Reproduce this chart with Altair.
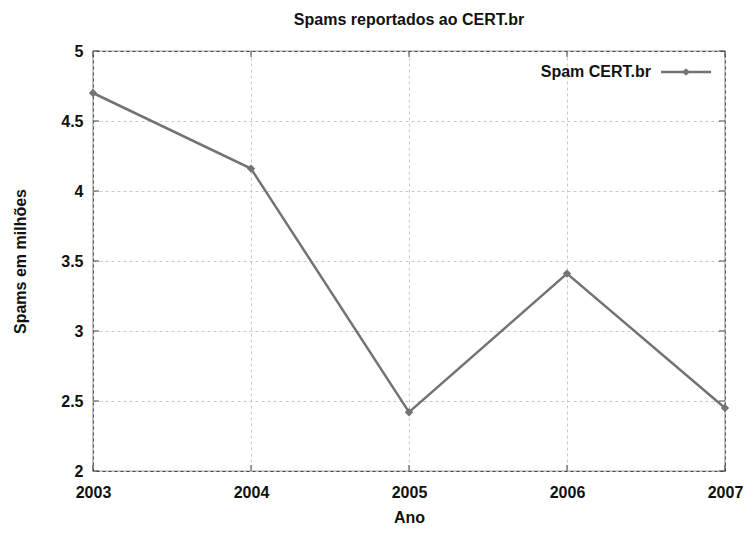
import altair as alt
import pandas as pd

years = [2003, 2004, 2005, 2006, 2007]
spams = [4.70, 4.16, 2.42, 3.41, 2.45]
y_ticks = [2, 2.5, 3, 3.5, 4, 4.5, 5]
series_name = "Spam CERT.br"

df = pd.DataFrame({"Ano": years, "Spams": spams})
W, H = 632, 420
LINE = "#737373"
FONT = "Liberation Sans"
FS = 16

x = alt.X("Ano:Q", scale=alt.Scale(domain=[2003, 2007], nice=False, zero=False),
          axis=alt.Axis(title="Ano", values=years, format="d", grid=True, gridDash=[3, 3],
                        gridColor="#c8c8c8", ticks=False, domain=False, labelPadding=13,
                        titlePadding=9, labelFlush=False))
y = alt.Y("Spams:Q", scale=alt.Scale(domain=[2, 5], nice=False, zero=False),
          axis=alt.Axis(title="Spams em milhões", values=y_ticks, format="~g", grid=True, gridDash=[3, 3],
                        gridColor="#c8c8c8", ticks=False, domain=False, labelPadding=10,
                        titlePadding=32, labelFlush=False))

line = alt.Chart(df).mark_line(color=LINE, strokeWidth=2.5).encode(x=x, y=y)
pts = alt.Chart(df).mark_point(shape="diamond", filled=True, color=LINE, size=70, opacity=1).encode(x="Ano:Q", y="Spams:Q")

# inward ticks (gnuplot style), mirrored
xt = pd.DataFrame({"Ano": years})
yt = pd.DataFrame({"Spams": y_ticks})
xtick_b = alt.Chart(xt).mark_rule(color="#444").encode(x="Ano:Q", y=alt.value(H), y2=alt.value(H - 6))
xtick_t = alt.Chart(xt).mark_rule(color="#444").encode(x="Ano:Q", y=alt.value(0), y2=alt.value(6))
ytick_l = alt.Chart(yt).mark_rule(color="#444").encode(y="Spams:Q", x=alt.value(0), x2=alt.value(6))
ytick_r = alt.Chart(yt).mark_rule(color="#444").encode(y="Spams:Q", x=alt.value(W), x2=alt.value(W - 6))

# legend (inside top-right)
leg = pd.DataFrame({"name": [series_name]})
leg_text = alt.Chart(leg).mark_text(align="right", baseline="middle", font=FONT, fontWeight="bold",
                                    fontSize=FS, color="#111").encode(
    text="name:N", x=alt.value(W - 74), y=alt.value(21))
leg_line = alt.Chart(leg).mark_rule(color=LINE, strokeWidth=2.5).encode(
    x=alt.value(W - 64), x2=alt.value(W - 14), y=alt.value(21))
leg_pt = alt.Chart(leg).mark_point(shape="diamond", filled=True, color=LINE, size=60, opacity=1).encode(
    x=alt.value(W - 39), y=alt.value(21))

chart = alt.layer(line, pts, xtick_b, xtick_t, ytick_l, ytick_r, leg_line, leg_pt, leg_text).properties(
    width=W, height=H,
    title=alt.TitleParams("Spams reportados ao CERT.br", font=FONT, fontSize=FS, fontWeight="bold",
                          color="#111", anchor="middle", offset=15),
    autosize=alt.AutoSizeParams(type="none"),
    padding={"left": 85, "top": 43, "right": 21, "bottom": 56},
    background="white",
).configure_view(stroke="#444", strokeWidth=1.2).configure_axis(
    labelFont=FONT, labelFontSize=FS, labelFontWeight="bold", labelColor="#111",
    titleFont=FONT, titleFontSize=FS, titleFontWeight="bold", titleColor="#111",
)

chart.save("out.html", embed_options={"renderer": "svg", "actions": False})
